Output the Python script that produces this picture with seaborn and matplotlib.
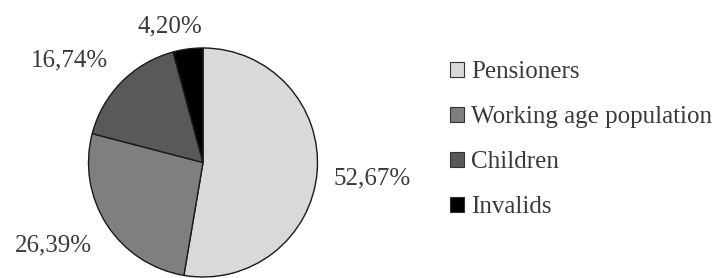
import matplotlib
matplotlib.use('Agg')
import numpy as np
import seaborn as sns
import matplotlib.pyplot as plt
from matplotlib.patches import Patch

categories = ['Pensioners', 'Working age population', 'Children', 'Invalids']
shares = [52.67, 26.39, 16.74, 4.20]
pct_labels = ['52,67%', '26,39%', '16,74%', '4,20%']
colors = ['#d9d9d9', '#7f7f7f', '#595959', '#000000']


def main():
    sns.set_style('white')
    plt.rcParams['font.family'] = ['Liberation Serif', 'DejaVu Serif']
    palette = sns.color_palette(colors)

    fig = plt.figure(figsize=(7.27, 2.78), dpi=100)
    ax = fig.add_axes([88 / 727, 1 / 278, 230 / 727, 229 / 278])
    wedges, _ = ax.pie(shares, colors=palette, startangle=90, counterclock=False,
                       wedgeprops=dict(edgecolor='#1a1a1a', linewidth=1.0))
    ax.set_xlim(-1.0, 1.0)
    ax.set_ylim(-1.0, 1.0)
    ax.set_aspect('equal')

    # label placement: distance from centre and angle nudge per slice
    dist = [1.48, 1.49, 1.47, 1.225]
    nudge = [-0.6, -3.9, 7.4, 6.0]
    for w, lab, d, dn in zip(wedges, pct_labels, dist, nudge):
        ang = np.deg2rad((w.theta1 + w.theta2) / 2 + dn)
        ax.text(d * np.cos(ang), d * np.sin(ang), lab, ha='center', va='center',
                fontsize=18, color='#3a3a3a', clip_on=False)

    handles = [Patch(facecolor=c, edgecolor='#333333', linewidth=0.8) for c in palette]
    fig.legend(handles, categories, loc='upper left', bbox_to_anchor=(450 / 727, 1 - 61 / 278),
               frameon=False, fontsize=18, handlelength=0.56, handleheight=0.56,
               handletextpad=0.3, labelspacing=0.92, borderpad=0, borderaxespad=0,
               labelcolor='#3a3a3a')

    fig.savefig('out.png', dpi=100)


if __name__ == '__main__':
    main()
